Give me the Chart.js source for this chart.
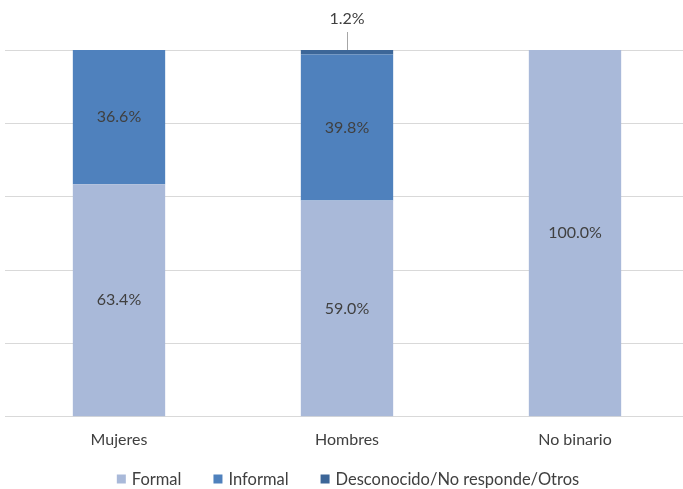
<!DOCTYPE html>
<html>
<head>
<meta charset="utf-8">
<script src="https://cdn.jsdelivr.net/npm/chart.js@4.4.1/dist/chart.umd.min.js"></script>
<style>
  html, body { margin: 0; padding: 0; background: #fff; overflow: hidden; }
  #wrap { position: relative; width: 689px; height: 489px; }
</style>
</head>
<body>
<div id="wrap"><canvas id="c"></canvas></div>
<script>
// 100% stacked bars: employment formality by gender
const categories = ["Mujeres", "Hombres", "No binario"];
const formal = [63.4, 59.0, 100.0];
const informal = [36.6, 39.8, 0];
const otros = [0, 1.2, 0];
const seriesNames = ["Formal", "Informal", "Desconocido/No responde/Otros"];

const FONT = { family: 'Lato, "Open Sans", sans-serif', size: 16 };
const LEGEND_FONT = `16.5px ${FONT.family}`;
const INK = "#404040";
const GRID = "#d9d9d9";
const COLORS = ["#a9b9d9", "#4f81bd", "#3c6698"];

/** Value labels: centred in each segment, small ones lifted above the bar with a leader line. */
const segmentLabels = {
  id: "segmentLabels",
  afterDatasetsDraw(chart) {
    const { ctx } = chart;
    ctx.save();
    ctx.font = `${FONT.size}px ${FONT.family}`;
    ctx.fillStyle = INK;
    ctx.textAlign = "center";
    ctx.textBaseline = "middle";
    chart.data.datasets.forEach((ds, di) => {
      chart.getDatasetMeta(di).data.forEach((bar, i) => {
        const v = ds.data[i];
        if (!v) return;
        const txt = v.toFixed(1) + "%";
        if (v < 5) {
          ctx.strokeStyle = "#a6a6a6";
          ctx.lineWidth = 1;
          ctx.beginPath();
          ctx.moveTo(bar.x + 0.5, bar.y);
          ctx.lineTo(bar.x + 0.5, bar.y - 18);
          ctx.stroke();
          ctx.fillText(txt, bar.x, bar.y - 31);
        } else {
          ctx.fillText(txt, bar.x, (bar.y + bar.base) / 2);
        }
      });
    });
    ctx.restore();
  },
};

/** Excel-style legend row at the bottom: small squares, wide gaps between entries. */
const bottomLegend = {
  id: "bottomLegend",
  afterDraw(chart) {
    const { ctx, chartArea } = chart;
    const box = 9, gapBox = 6, gapItem = 32;
    const y = 479;
    ctx.save();
    ctx.font = LEGEND_FONT;
    ctx.textBaseline = "middle";
    ctx.textAlign = "left";
    const items = chart.data.datasets.map((ds) => ({
      label: ds.label,
      color: ds.backgroundColor,
      w: ctx.measureText(ds.label).width,
    }));
    const total = items.reduce((s, it) => s + box + gapBox + it.w, 0) + gapItem * (items.length - 1);
    let x = (chartArea.left + chartArea.right) / 2 - total / 2 + 1;
    items.forEach((it) => {
      ctx.fillStyle = it.color;
      ctx.fillRect(x, y - box / 2, box, box);
      ctx.fillStyle = INK;
      ctx.fillText(it.label, x + box + gapBox, y + 1);
      x += box + gapBox + it.w + gapItem;
    });
    ctx.restore();
  },
};

const datasets = [formal, informal, otros].map((d, i) => ({
  label: seriesNames[i],
  data: d,
  backgroundColor: COLORS[i],
  categoryPercentage: 1,
  barPercentage: 0.405,
}));

new Chart(document.getElementById("c"), {
  type: "bar",
  data: { labels: categories, datasets },
  options: {
    responsive: true,
    maintainAspectRatio: false,
    animation: false,
    layout: { padding: { top: 50, left: 5, right: 0, bottom: 35 } },
    plugins: {
      legend: { display: false },
      tooltip: { enabled: false },
    },
    scales: {
      x: {
        stacked: true,
        grid: { display: false },
        border: { display: false },
        ticks: { font: FONT, color: INK, padding: 5 },
      },
      y: {
        stacked: true,
        min: 0,
        max: 100,
        ticks: { display: false, stepSize: 20 },
        grid: { color: GRID, drawTicks: false },
        border: { display: false },
      },
    },
  },
  plugins: [segmentLabels, bottomLegend],
});
</script>
</body>
</html>
